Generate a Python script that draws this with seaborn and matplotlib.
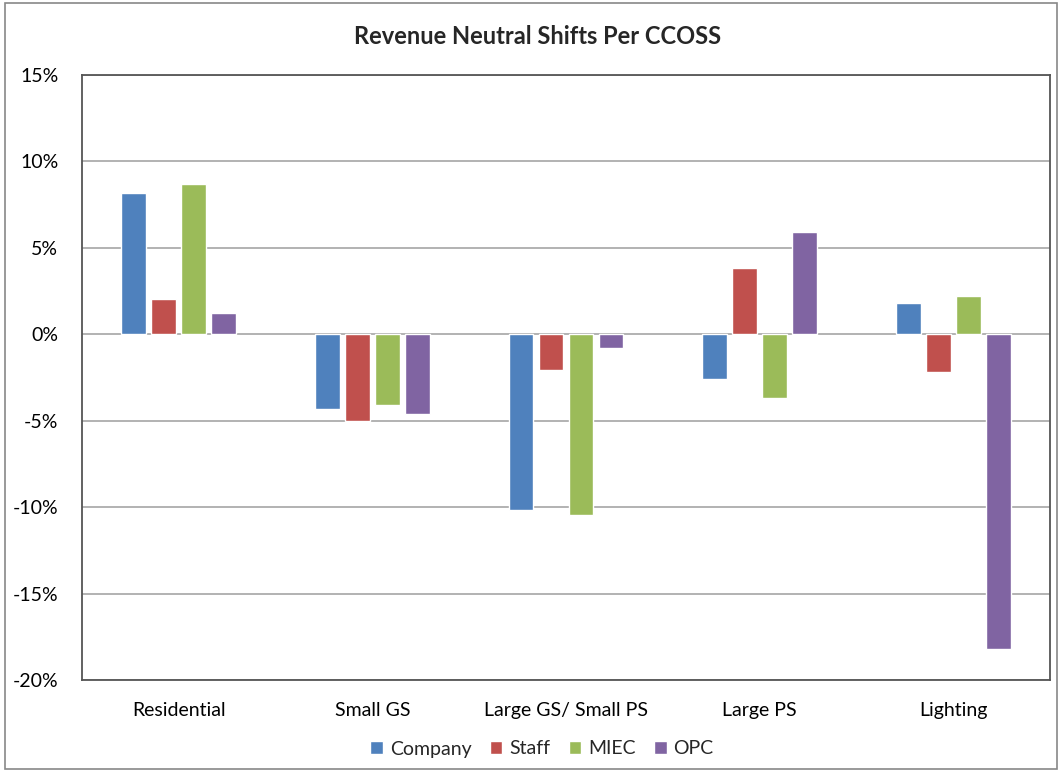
import matplotlib
matplotlib.use("Agg")
import matplotlib.pyplot as plt
from matplotlib.patches import Rectangle
from matplotlib.ticker import FuncFormatter, MultipleLocator
import pandas as pd
import seaborn as sns

# Revenue neutral shifts (%) per class of service
categories = ["Residential", "Small GS", "Large GS/ Small PS", "Large PS", "Lighting"]
company = [8.2, -4.3, -10.15, -2.6, 1.8]
staff = [2.05, -5.0, -2.05, 3.85, -2.2]
miec = [8.7, -4.1, -10.45, -3.7, 2.2]
opc = [1.25, -4.6, -0.8, 5.9, -18.2]
series_names = ["Company", "Staff", "MIEC", "OPC"]
colors = ["#4F81BD", "#C0504D", "#9BBB59", "#8064A2"]

df = pd.DataFrame({
    "Class": categories * 4,
    "Party": sum([[s] * len(categories) for s in series_names], []),
    "Shift": company + staff + miec + opc,
})

sns.set_theme(style="white")
plt.rcParams["font.family"] = ["Lato", "DejaVu Sans"]

fig = plt.figure(figsize=(10.62, 7.72), dpi=100)
ax = fig.add_axes([82 / 1062, 1 - 680 / 772, (1050 - 82) / 1062, (680 - 75) / 772])

sns.barplot(data=df, x="Class", y="Shift", hue="Party", order=categories,
            hue_order=series_names, palette=colors, width=0.62, gap=0.17,
            saturation=1, ax=ax, legend=True)

ax.set_ylim(-20, 15)
ax.yaxis.set_major_locator(MultipleLocator(5))
ax.yaxis.set_major_formatter(FuncFormatter(lambda v, _: f"{v:.0f}%"))
ax.grid(axis="y", color="#A6A6A6", linewidth=1.2)
ax.set_axisbelow(True)
ax.set_xlabel("")
ax.set_ylabel("")
for s in ax.spines.values():
    s.set_color("#555555")
    s.set_linewidth(1.3)
ax.tick_params(axis="y", labelsize=14, pad=17, colors="black", length=0)
ax.tick_params(axis="x", labelsize=14, pad=16, colors="black", length=0)

fig.suptitle("Revenue Neutral Shifts Per CCOSS", x=538 / 1062, y=1 - 37 / 772,
             va="center", fontsize=17, fontweight="bold")

leg = ax.legend(loc="center", bbox_to_anchor=(542 / 1062, 1 - 749 / 772),
                bbox_transform=fig.transFigure, ncol=4, frameon=False,
                fontsize=14, handlelength=0.65, handleheight=0.65, handletextpad=0.35,
                columnspacing=0.95)

# Outer chart border
fig.patches.append(Rectangle((5 / 1062, 3 / 772), 1052 / 1062, 766 / 772,
                             transform=fig.transFigure, fill=False,
                             edgecolor="#888888", linewidth=1.2))

fig.savefig("out.png", dpi=100)
